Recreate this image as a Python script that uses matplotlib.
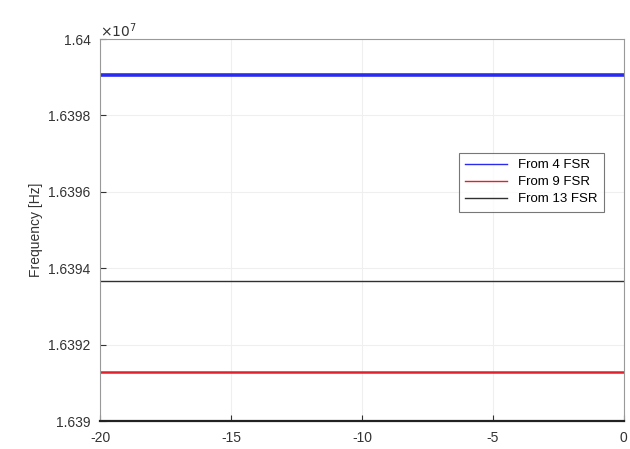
import matplotlib
matplotlib.use('Agg')
import matplotlib.pyplot as plt

plt.rcParams['font.family'] = ['Liberation Sans', 'DejaVu Sans']
plt.rcParams['axes.unicode_minus'] = False

# data
time_s = [-20, 0]
from_4_fsr = [16399060, 16399060]
from_9_fsr = [16391290, 16391290]
from_13_fsr = [16393665, 16393665]
labels = ['From 4 FSR', 'From 9 FSR', 'From 13 FSR']

fig = plt.figure(figsize=(6.3, 4.49), dpi=100)
ax = fig.add_axes([0.159, 0.062, 0.831, 0.851])

ax.plot(time_s, from_4_fsr, color='#2b2bf0', linewidth=2.6, label=labels[0])
ax.plot(time_s, from_9_fsr, color='#e0202a', linewidth=1.8, label=labels[1])
ax.plot(time_s, from_13_fsr, color='#303030', linewidth=1.0, label=labels[2])

ax.set_xlim(-20, 0)
ax.set_ylim(16390000, 16400000)
ax.set_xticks([-20, -15, -10, -5, 0])
ax.set_yticks([16390000, 16392000, 16394000, 16396000, 16398000, 16400000])
ax.set_yticklabels(['1.639', '1.6392', '1.6394', '1.6396', '1.6398', '1.64'])
ax.text(0.0, 1.005, r'$\times10^{7}$', transform=ax.transAxes, fontsize=10, color='#333333')

ax.set_ylabel('Frequency [Hz]', fontsize=10, color='#333333')
ax.tick_params(labelsize=10, colors='#333333', direction='in', length=4, pad=7)
ax.grid(True, color='#efefef', linewidth=0.8)

for side in ['top', 'right', 'left']:
    ax.spines[side].set_color('#999999')
ax.spines['bottom'].set_color('#222222')
ax.spines['bottom'].set_linewidth(1.6)

leg = ax.legend(loc='upper right', bbox_to_anchor=(0.975, 0.72), fontsize=9.5,
                frameon=True, fancybox=False, handlelength=3.2, borderpad=0.5,
                labelspacing=0.35)
leg.get_frame().set_edgecolor('#555555')
leg.get_frame().set_linewidth(0.8)
for line in leg.get_lines():
    line.set_linewidth(1.0)

plt.savefig('out.png', dpi=100)
